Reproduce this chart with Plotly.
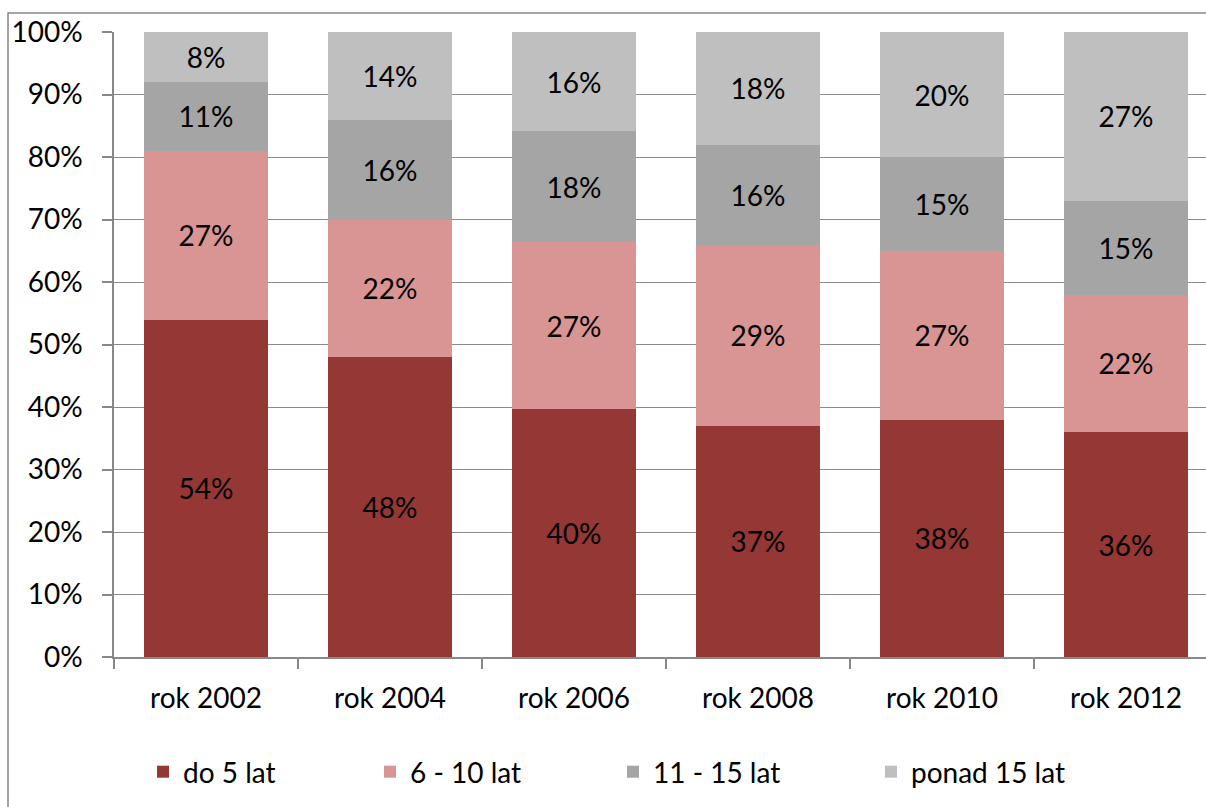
import plotly.graph_objects as go

# Survey years
years = ["rok 2002", "rok 2004", "rok 2006", "rok 2008", "rok 2010", "rok 2012"]

# Share of each age group per year (%)
do_5_lat = [54, 48, 40, 37, 38, 36]
lat_6_10 = [27, 22, 27, 29, 27, 22]
lat_11_15 = [11, 16, 18, 16, 15, 15]
ponad_15 = [8, 14, 16, 18, 20, 27]

series_names = ["do 5 lat", "6 - 10 lat", "11 - 15 lat", "ponad 15 lat"]
series_values = [do_5_lat, lat_6_10, lat_11_15, ponad_15]
colors = ["#953735", "#D99594", "#A5A5A5", "#BFBFBF"]
legend_ids = ["legend", "legend2", "legend3", "legend4"]

FONT = "Lato"
FS = 28

W, H = 1206, 807
ML, MR, MT, MB = 114, 0, 32, 150
PW = W - ML - MR
PH = H - MT - MB


def px_x(p):
    return (p - ML) / PW


def px_y(p):
    return (H - MB - p) / PH


fig = go.Figure()
for name, vals, col, lg in zip(series_names, series_values, colors, legend_ids):
    fig.add_trace(go.Bar(
        x=years,
        y=vals,
        name=name,
        legend=lg,
        showlegend=True,
        marker=dict(color=col, line=dict(width=0)),
        text=[f"{v}%" for v in vals],
        texttemplate="%{text}",
        textposition="inside",
        insidetextanchor="middle",
        textangle=0,
        textfont=dict(family=FONT, size=FS, color="black"),
        constraintext="none",
        hoverinfo="skip",
    ))

legend_text_starts = [185, 412, 655, 913]
legend_common = dict(
    orientation="h",
    xanchor="left",
    yanchor="middle",
    y=px_y(772),
    font=dict(family=FONT, size=FS, color="black"),
    bgcolor="rgba(0,0,0,0)",
    borderwidth=0,
    visible=True,
)

layout_legends = {}
for lg, ts in zip(legend_ids, legend_text_starts):
    layout_legends[lg] = dict(x=px_x(ts - 42), **legend_common)

fig.update_layout(
    barmode="stack",
    barnorm="percent",
    bargap=0.33,
    showlegend=True,
    width=W,
    height=H,
    autosize=False,
    margin=dict(l=ML, r=MR, t=MT, b=MB, pad=0),
    paper_bgcolor="white",
    plot_bgcolor="white",
    font=dict(family=FONT, size=FS, color="black"),
    uniformtext=dict(minsize=FS, mode="show"),
    xaxis=dict(
        type="category",
        range=[-0.5, -0.5 + PW / 184],
        tickson="boundaries",
        ticks="outside",
        ticklen=10,
        tickwidth=1.5,
        tickcolor="#888888",
        showline=True,
        linecolor="#888888",
        linewidth=1.5,
        showgrid=False,
        ticklabelstandoff=16,
        tickfont=dict(family=FONT, size=FS, color="black"),
    ),
    yaxis=dict(
        range=[0, 100],
        tickvals=list(range(0, 101, 10)),
        ticktext=[f"{v}%" for v in range(0, 101, 10)],
        ticks="outside",
        ticklen=10,
        tickwidth=1.5,
        tickcolor="#888888",
        showline=True,
        linecolor="#888888",
        linewidth=1.5,
        showgrid=True,
        gridcolor="#8a8a8a",
        gridwidth=1.3,
        zeroline=False,
        ticklabelstandoff=14,
        tickfont=dict(family=FONT, size=FS, color="black"),
    ),
    shapes=[
        dict(
            type="rect",
            xref="paper",
            yref="paper",
            x0=px_x(8),
            x1=px_x(W + 20),
            y0=px_y(H + 20),
            y1=px_y(13),
            line=dict(color="#888888", width=1.5),
            fillcolor="rgba(0,0,0,0)",
            layer="below",
        )
    ],
    **layout_legends,
)

fig.write_html("out.html")
